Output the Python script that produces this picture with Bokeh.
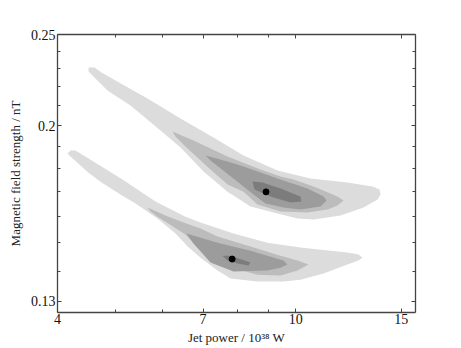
from bokeh.plotting import figure
from bokeh.models import Range1d, FixedTicker, LogAxis
from bokeh.embed import file_html
from bokeh.resources import INLINE

# ---------------- data (jet power in 1e38 W, field in nT) ----------------
x_limits = (4.0, 15.85)
y_limits = (0.1265, 0.25)

x_major = [4, 7, 10, 15]
x_minor = [5, 6, 8, 9]
y_major = [0.13, 0.2, 0.25]
y_minor = [0.14, 0.15, 0.16, 0.17, 0.18, 0.19, 0.21, 0.22, 0.23, 0.24]

# upper banana contours (outer -> inner)
up1_power = [4.507, 4.612, 4.738, 5.0, 5.655, 6.42, 7.288, 8.18, 9.323, 10.58, 12.2, 13.43, 13.8, 13.86,
             13.7, 12.98, 11.88, 10.71, 10.07, 9.18, 8.403, 7.692, 7.013, 6.42, 5.944, 5.297, 4.848, 4.576, 4.507]
up1_field = [0.2306, 0.2306, 0.2278, 0.2233, 0.2137, 0.2035, 0.1942, 0.1859, 0.1791, 0.1757, 0.174, 0.1723, 0.171, 0.1689,
             0.1669, 0.1636, 0.1604, 0.1589, 0.1593, 0.1616, 0.164, 0.1701, 0.1787, 0.1895, 0.1976, 0.2101, 0.2179, 0.2261, 0.2283]
up2_power = [6.225, 6.749, 7.692, 8.732, 9.431, 9.914, 10.71, 11.43, 11.74, 12.02,
             11.74, 11.3, 10.46, 9.431, 8.632, 8.18, 7.692, 7.205, 6.595, 6.297]
up2_field = [0.1971, 0.1928, 0.1854, 0.1796, 0.1765, 0.1752, 0.1723, 0.1693, 0.1681, 0.1664,
             0.1644, 0.1628, 0.1616, 0.162, 0.1648, 0.1701, 0.1731, 0.1796, 0.1891, 0.1947]
up3_power = [7.068, 7.692, 8.18, 9.323, 10.46, 11.13, 11.26,
             11.0, 10.18, 9.54, 8.902, 8.5, 8.18, 7.205]
up3_field = [0.1859, 0.1831, 0.1809, 0.1757, 0.1714, 0.1681, 0.1664,
             0.164, 0.1628, 0.1636, 0.1652, 0.1689, 0.1723, 0.1836]
up4_power = [8.468, 8.8, 9.431, 10.18, 10.22, 9.801, 9.075, 8.534]
up4_field = [0.1744, 0.174, 0.1714, 0.1681, 0.166, 0.1656, 0.1681, 0.171]

# lower banana contours (outer -> inner)
lo1_power = [4.157, 4.205, 4.287, 4.507, 5.136, 5.831, 6.544, 6.933, 7.871, 8.97, 10.18, 11.43, 12.2, 12.73, 12.93,
             12.73, 12.2, 11.13, 10.18, 9.54, 8.632, 7.781, 7.402, 6.933, 6.595, 6.297, 5.876, 5.4, 5.136, 4.738, 4.507, 4.205]
lo1_field = [0.1868, 0.1881, 0.1881, 0.1845, 0.1752, 0.166, 0.16, 0.1577, 0.1535, 0.1501, 0.1483, 0.1472, 0.1465, 0.1458, 0.1447,
             0.1437, 0.1423, 0.1392, 0.1371, 0.1365, 0.1365, 0.1375, 0.1402, 0.1447, 0.1488, 0.1535, 0.1593, 0.1652, 0.1684, 0.1740, 0.1782, 0.1854]
lo2_power = [5.655, 6.06, 6.494, 6.933, 7.402, 8.403, 9.431, 10.07, 10.5,
             10.07, 9.431, 8.632, 7.692, 6.933, 6.544, 5.876, 5.72]
lo2_field = [0.1636, 0.1604, 0.1577, 0.1554, 0.1524, 0.1487, 0.1454, 0.1437, 0.1423,
             0.1402, 0.1385, 0.1388, 0.1416, 0.1472, 0.1531, 0.16, 0.162]
lo3_power = [6.57, 7.402, 8.403, 9.54, 9.688, 9.431, 8.97, 7.871, 7.205, 6.749]
lo3_field = [0.1535, 0.1501, 0.1472, 0.1437, 0.1423, 0.1412, 0.1402, 0.1399, 0.143, 0.1498]
lo4_power = [7.545, 7.781, 8.403, 8.338, 7.994, 7.692]
lo4_field = [0.1454, 0.1454, 0.143, 0.1419, 0.1426, 0.1437]

best_power = [8.92, 7.83]
best_field = [0.170, 0.1442]

level_colors = ["#dcdcdc", "#bcbcbc", "#9c9c9c", "#7c7c7c"]

# ---------------- figure ----------------
FONT = "Liberation Serif"
p = figure(width=453, height=348, x_axis_type="log", y_axis_type="log",
           x_range=Range1d(*x_limits), y_range=Range1d(*y_limits),
           output_backend="svg", toolbar_location=None,
           min_border_left=57, min_border_right=38, min_border_top=34, min_border_bottom=36)
p.grid.visible = False
p.outline_line_color = None
p.background_fill_color = "white"
p.border_fill_color = "white"

xs = [up1_power, up2_power, up3_power, up4_power, lo1_power, lo2_power, lo3_power, lo4_power]
ys = [up1_field, up2_field, up3_field, up4_field, lo1_field, lo2_field, lo3_field, lo4_field]
cols = level_colors + level_colors
p.patches(xs, ys, fill_color=cols, line_color=None)
p.scatter(best_power, best_field, size=6, color="black")

xt = FixedTicker(ticks=x_major, minor_ticks=x_minor)
yt = FixedTicker(ticks=y_major, minor_ticks=y_minor)

p.add_layout(LogAxis(), "above")
p.add_layout(LogAxis(), "right")

for ax in p.xaxis:
    ax.ticker = xt
for ax in p.yaxis:
    ax.ticker = yt

for ax in list(p.xaxis) + list(p.yaxis):
    ax.axis_line_color = "#444444"
    ax.axis_line_width = 1.3
    ax.major_tick_line_color = "#444444"
    ax.minor_tick_line_color = "#444444"
    ax.major_tick_in = 4
    ax.major_tick_out = 0
    ax.minor_tick_in = 3
    ax.minor_tick_out = 0
    ax.major_label_text_font = FONT
    ax.major_label_text_font_size = "14px"
    ax.major_label_text_color = "#111111"
    ax.axis_label_text_font = FONT
    ax.axis_label_text_font_style = "normal"
    ax.axis_label_text_font_size = "13px"
    ax.axis_label_text_color = "#222222"

p.below[0].major_label_overrides = {v: str(v) for v in x_major}
p.left[0].major_label_overrides = {v: str(v) for v in y_major}
p.below[0].major_label_standoff = 1
p.left[0].major_label_standoff = 2
p.below[0].axis_label = "Jet power / 10\u00b3\u2078 W"
p.left[0].axis_label = "Magnetic field strength / nT"
p.below[0].axis_label_standoff = 3
p.left[0].axis_label_standoff = 5

p.above[0].major_label_overrides = {v: "" for v in x_major}
p.right[0].major_label_overrides = {v: "" for v in y_major}
for ax in (p.above[0], p.right[0]):
    ax.major_label_standoff = 0

open("out.html", "w").write(file_html(p, INLINE))
